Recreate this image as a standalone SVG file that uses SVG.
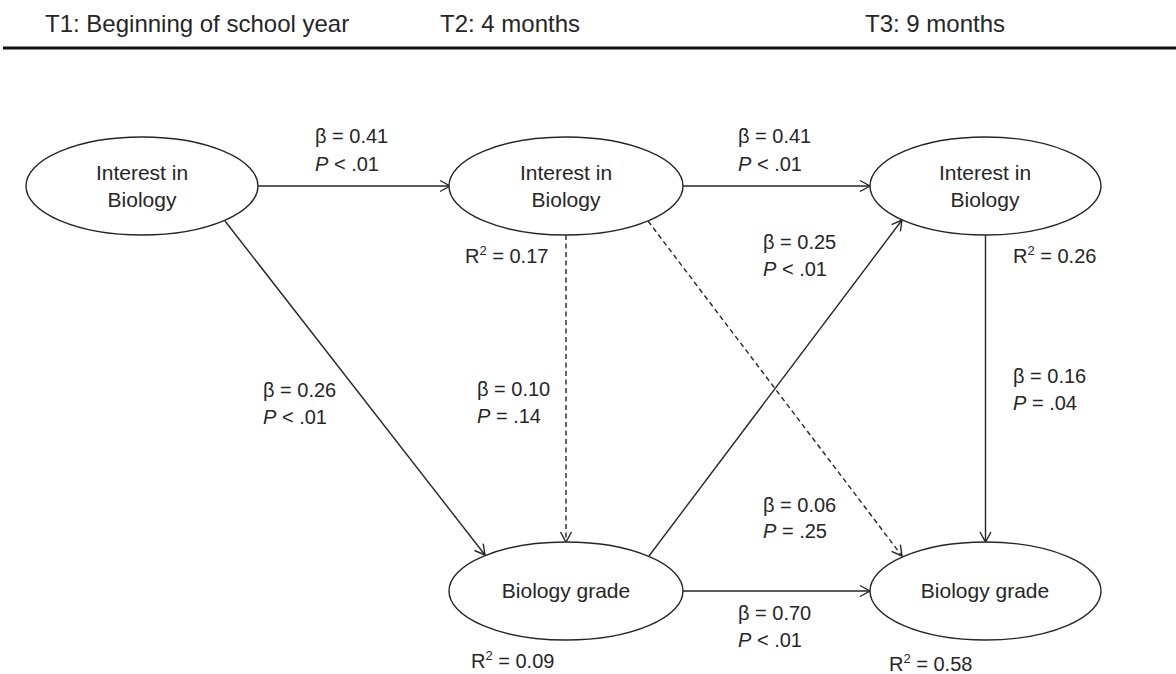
<svg xmlns="http://www.w3.org/2000/svg" width="1176" height="674" viewBox="0 0 1176 674">
<style>
text{font-family:"Liberation Sans",Arial,sans-serif;fill:#262626}
.hdr{font-size:24px}
.node{font-size:21px;text-anchor:middle}
.lbl{font-size:20px}
.it{font-style:italic}
ellipse{fill:#fff;stroke:#262626;stroke-width:1.4}
.edge{stroke:#262626;stroke-width:1.4;fill:none;marker-end:url(#arr)}
.dash{stroke-dasharray:5,3.5}
</style>
<defs>
<marker id="arr" markerUnits="userSpaceOnUse" markerWidth="14" markerHeight="14" refX="11" refY="6" orient="auto" viewBox="0 0 14 12">
<path d="M1,0.5 L11,6 L1,11.5" fill="none" stroke="#262626" stroke-width="1.4"/>
</marker>
</defs>
<rect width="1176" height="674" fill="#fff"/>
<g id="header">
<text class="hdr" x="45" y="32">T1: Beginning of school year</text>
<text class="hdr" x="440" y="32">T2: 4 months</text>
<text class="hdr" x="865" y="32">T3: 9 months</text>
<line x1="3" y1="48" x2="1176" y2="48" stroke="#111" stroke-width="3.2"/>
</g>
<g id="connectors">
<path class="edge" d="M258,186 L450,186"/>
<path class="edge" d="M683,186 L870,186"/>
<path class="edge" d="M225,221 L485,555"/>
<path class="edge dash" d="M566,235 L566,542"/>
<path class="edge dash" d="M648,221 L902,556"/>
<path class="edge" d="M649,556 L902,220"/>
<path class="edge" d="M683,591 L870,591"/>
<path class="edge" d="M985.5,235 L985.5,542"/>
</g>
<g id="labels">
<text class="lbl" x="315" y="143">β = 0.41</text>
<text class="lbl" x="315" y="171"><tspan class="it">P</tspan> &lt; .01</text>
<text class="lbl" x="738" y="143">β = 0.41</text>
<text class="lbl" x="738" y="171"><tspan class="it">P</tspan> &lt; .01</text>
<text class="lbl" x="763" y="249">β = 0.25</text>
<text class="lbl" x="763" y="276"><tspan class="it">P</tspan> &lt; .01</text>
<text class="lbl" x="263" y="397">β = 0.26</text>
<text class="lbl" x="263" y="424"><tspan class="it">P</tspan> &lt; .01</text>
<text class="lbl" x="477" y="396">β = 0.10</text>
<text class="lbl" x="477" y="423"><tspan class="it">P</tspan> = .14</text>
<text class="lbl" x="1013" y="383">β = 0.16</text>
<text class="lbl" x="1013" y="410"><tspan class="it">P</tspan> = .04</text>
<text class="lbl" x="763" y="512">β = 0.06</text>
<text class="lbl" x="763" y="538"><tspan class="it">P</tspan> = .25</text>
<text class="lbl" x="738" y="620">β = 0.70</text>
<text class="lbl" x="738" y="647"><tspan class="it">P</tspan> &lt; .01</text>
<text class="lbl" x="465" y="263">R<tspan font-size="13" dy="-8">2</tspan><tspan dy="8"> = 0.17</tspan></text>
<text class="lbl" x="1013" y="263">R<tspan font-size="13" dy="-8">2</tspan><tspan dy="8"> = 0.26</tspan></text>
<text class="lbl" x="471" y="668">R<tspan font-size="13" dy="-8">2</tspan><tspan dy="8"> = 0.09</tspan></text>
<text class="lbl" x="889" y="671">R<tspan font-size="13" dy="-8">2</tspan><tspan dy="8"> = 0.58</tspan></text>
</g>
<g id="t1-interest">
<ellipse cx="142" cy="186" rx="116" ry="49"/>
<text class="node" x="142" y="180">Interest in</text>
<text class="node" x="142" y="207">Biology</text>
</g>
<g id="t2-interest">
<ellipse cx="566" cy="186" rx="117" ry="49"/>
<text class="node" x="566" y="180">Interest in</text>
<text class="node" x="566" y="207">Biology</text>
</g>
<g id="t3-interest">
<ellipse cx="985.5" cy="186" rx="115.5" ry="49"/>
<text class="node" x="985" y="180">Interest in</text>
<text class="node" x="985" y="207">Biology</text>
</g>
<g id="t2-grade">
<ellipse cx="566" cy="591" rx="117" ry="49"/>
<text class="node" x="566" y="598">Biology grade</text>
</g>
<g id="t3-grade">
<ellipse cx="985.5" cy="591" rx="115.5" ry="49"/>
<text class="node" x="985" y="598">Biology grade</text>
</g>
</svg>
